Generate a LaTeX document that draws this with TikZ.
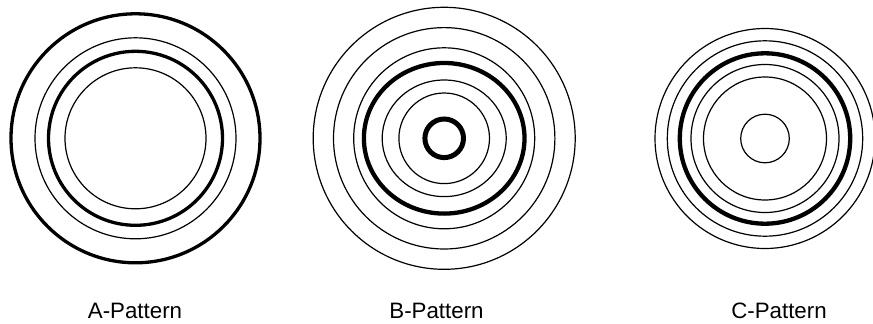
\documentclass[tikz,border=0pt]{standalone}
\usepackage{fontspec}
\setmainfont{Liberation Sans}
\begin{document}
\begin{tikzpicture}[x=1pt,y=-1pt,
  thinring/.style={draw=black,line width=1.2pt},
  thickring/.style={draw=black,line width=3.3pt},
  boldring/.style={draw=black,line width=4.3pt},
  heavyring/.style={draw=black,line width=5pt},
  patlabel/.style={anchor=base,inner sep=0pt,font=\fontsize{22.3}{26}\selectfont}]
\useasboundingbox (0,0) rectangle (873,324);
% A-Pattern
\coordinate (ca) at (135.5,138.3);
\draw[thickring] (ca) circle[radius=124.5];
\draw[thinring] (ca) circle[radius=100.5];
\draw[thickring] (ca) circle[radius=87];
\draw[thinring] (ca) circle[radius=70.5];
% B-Pattern
\coordinate (cb) at (444.2,138.3);
\draw[thinring] (cb) circle[radius=131];
\draw[thinring] (cb) circle[radius=110.7];
\draw[thinring] (cb) circle[radius=90.5];
\draw[boldring] (cb) ellipse[x radius=80.3,y radius=75.3];
\draw[thinring] (cb) ellipse[x radius=62,y radius=58.3];
\draw[thinring] (cb) circle[radius=45.3];
\draw[heavyring] (cb) circle[radius=19.3];
% C-Pattern
\coordinate (cc) at (765,138.5);
\draw[thinring] (cc) circle[radius=110];
\draw[thinring] (cc) circle[radius=97.7];
\draw[boldring] (cc) circle[radius=85.2];
\draw[thinring] (cc) circle[radius=74];
\draw[thinring] (cc) circle[radius=61.5];
\draw[thinring] (cc) circle[radius=24.3];
% labels
\node[patlabel] (la) at (135,318) {A-Pattern};
\node[patlabel] (lb) at (436.5,318) {B-Pattern};
\node[patlabel] (lc) at (779,318) {C-Pattern};
\end{tikzpicture}
\end{document}
